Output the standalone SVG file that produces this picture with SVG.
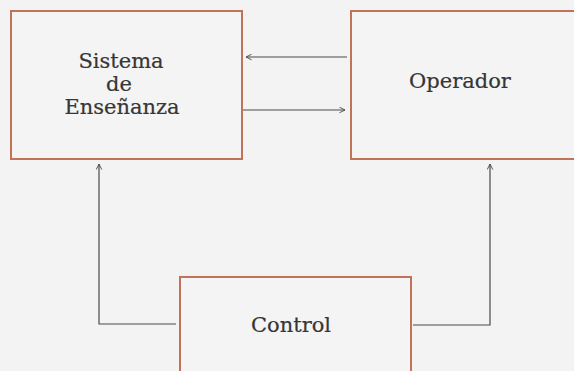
<svg xmlns="http://www.w3.org/2000/svg" width="574" height="371" viewBox="0 0 574 371">
<style>
.box{fill:#f4f4f4;stroke:#c27258;stroke-width:2}
.lbl{font-family:"DejaVu Serif",serif;font-size:21px;fill:#363636;stroke:#363636;stroke-width:0.2;text-anchor:middle}
.con{fill:none;stroke:#4a4a4a;stroke-width:1.2}
</style>
<defs>
<marker id="arr" viewBox="0 0 10 10" refX="9" refY="5" markerWidth="7" markerHeight="7" orient="auto" markerUnits="userSpaceOnUse">
<path d="M1,1 L9,5 L1,9" fill="none" stroke="#4a4a4a" stroke-width="1.3"/>
</marker>
</defs>
<rect width="574" height="371" fill="#f3f3f3"/>
<g id="sistema">
<rect class="box" x="11" y="11" width="231" height="148"/>
<text class="lbl" x="121" y="68">Sistema</text>
<text class="lbl" x="119" y="91">de</text>
<text class="lbl" x="122" y="114">Enseñanza</text>
</g>
<g id="operador">
<rect class="box" x="351" y="11" width="240" height="148"/>
<text class="lbl" x="460" y="88">Operador</text>
</g>
<g id="control">
<rect class="box" x="180" y="277" width="231" height="120"/>
<text class="lbl" x="291" y="332">Control</text>
</g>
<g id="connectors">
<line class="con" x1="347" y1="57" x2="246" y2="57" marker-end="url(#arr)"/>
<line class="con" x1="243" y1="110" x2="345" y2="110" marker-end="url(#arr)"/>
<polyline class="con" points="176,324 99,324 99,164" marker-end="url(#arr)"/>
<polyline class="con" points="413,325 490,325 490,164" marker-end="url(#arr)"/>
</g>
</svg>
